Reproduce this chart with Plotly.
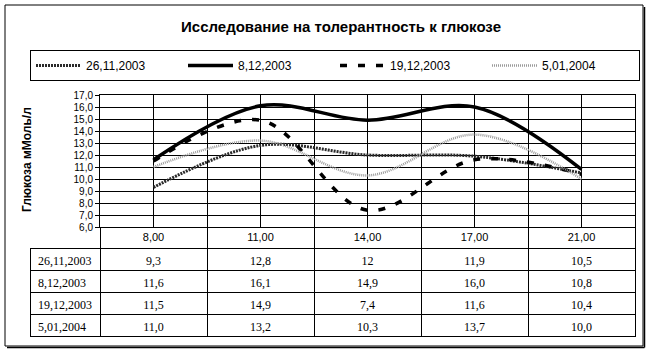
import plotly.graph_objects as go

# ---- data ----
times = ["8,00", "11,00", "14,00", "17,00", "21,00"]
series_names = ["26,11,2003", "8,12,2003", "19,12,2003", "5,01,2004"]
s_26_11_2003 = [9.3, 12.8, 12, 11.9, 10.5]
s_8_12_2003 = [11.6, 16.1, 14.9, 16.0, 10.8]
s_19_12_2003 = [11.5, 14.9, 7.4, 11.6, 10.4]
s_5_01_2004 = [11.0, 13.2, 10.3, 13.7, 10.0]
series_values = [s_26_11_2003, s_8_12_2003, s_19_12_2003, s_5_01_2004]

title_text = "Исследование на толерантность к глюкозе"
y_title = "Глюкоза мМоль/л"

# ---- styles ----
styles = [
    dict(color="#2a2a2a", width=3, dash="2px,1px"),
    dict(color="black", width=3.5, dash="solid"),
    dict(color="black", width=3.5, dash="7px,11px"),
    dict(color="#9a9a9a", width=2.5, dash="1px,1px"),
]

W, H = 653, 354
L, R, T, B = 30, 18, 95, 17
PW, PH = W - L - R, H - T - B


def px_x(px):
    return (px - L) / PW


def px_y(py):
    return (H - B - py) / PH


def fmt(v):
    if isinstance(v, float):
        return f"{v:.1f}".replace(".", ",")
    return str(v)


x_idx = list(range(len(times)))

fig = go.Figure()
for name, vals, st in zip(series_names, series_values, styles):
    fig.add_trace(go.Scatter(
        x=x_idx, y=vals, name=name, mode="lines",
        line=dict(color=st["color"], width=st["width"], dash=st["dash"],
                  shape="spline", smoothing=1),
        xaxis="x", yaxis="y",
    ))

# table (data rows)
col_values = [series_names] + [[fmt(vals[i]) for vals in series_values] for i in range(len(times))]
header_vals = [c[0] for c in col_values]
cell_vals = [c[1:] for c in col_values]
aligns = ["left"] + ["center"] * len(times)
tfont = dict(family="Liberation Serif, Times New Roman", size=12, color="black")
fig.add_trace(go.Table(
    domain=dict(x=[0, 1], y=[0, px_y(248)]),
    columnwidth=[70] + [107] * len(times),
    header=dict(values=header_vals, align=aligns, font=tfont, height=22,
                fill_color="white", line=dict(color="black", width=1)),
    cells=dict(values=cell_vals, align=aligns, font=tfont, height=22,
               fill_color="white", line=dict(color="black", width=1)),
))

x0 = px_x(100)
fig.update_layout(
    width=W, height=H,
    margin=dict(l=L, r=R, t=T, b=B),
    paper_bgcolor="white", plot_bgcolor="white",
    separators=", ",
    font=dict(family="Liberation Sans, Arial", size=11, color="black"),
    title=dict(text=title_text, x=341 / W, xref="container", xanchor="center",
               y=1 - 27 / H, yref="container", yanchor="middle",
               font=dict(family="Liberation Sans, Arial", size=15, color="black",
                         weight="bold")),
    xaxis=dict(domain=[x0, 1], range=[-0.5, len(times) - 0.5],
               tickvals=x_idx, ticktext=times, ticks="",
               showgrid=True, gridcolor="black", gridwidth=1,
               showline=True, linecolor="black", linewidth=1, mirror=True,
               zeroline=False,
               tickfont=dict(size=11, color="black"),
               minor=dict(tickvals=[i - 0.5 for i in range(len(times) + 1)],
                          showgrid=True, gridcolor="black", gridwidth=1,
                          ticks="outside", ticklen=21, tickcolor="black",
                          tickwidth=1)),
    yaxis=dict(domain=[px_y(227), 1], range=[6, 17], dtick=1, tick0=6,
               tickformat=".1f", ticks="outside", ticklen=4, tickcolor="black",
               showgrid=True, gridcolor="black", gridwidth=1,
               showline=True, linecolor="black", linewidth=1, mirror=True,
               zeroline=False, tickfont=dict(size=10, color="black")),
    legend=dict(orientation="h", x=px_x(30), xanchor="left", y=px_y(50), yanchor="top",
                bgcolor="white", bordercolor="black", borderwidth=1,
                font=dict(family="Liberation Sans, Arial", size=12, color="black"),
                itemwidth=45, entrywidth=92, tracegroupgap=0),
    showlegend=True,
)

fig.add_annotation(text=y_title, textangle=-90, xref="paper", yref="paper",
                   x=px_x(27), y=px_y(160), xanchor="center", yanchor="middle",
                   showarrow=False,
                   font=dict(family="Liberation Sans, Arial", size=12,
                             color="black", weight="bold"))

# outer chart border with slight shadow
fig.add_shape(type="rect", xref="paper", yref="paper",
              x0=px_x(5), x1=px_x(643), y0=px_y(346), y1=px_y(5),
              line=dict(color="black", width=1), layer="below")
fig.add_shape(type="line", xref="paper", yref="paper",
              x0=px_x(644.5), x1=px_x(644.5), y0=px_y(347.5), y1=px_y(7),
              line=dict(color="black", width=1.5))
fig.add_shape(type="line", xref="paper", yref="paper",
              x0=px_x(7), x1=px_x(644.5), y0=px_y(347.5), y1=px_y(347.5),
              line=dict(color="black", width=1.5))

fig.write_html("out.html")
